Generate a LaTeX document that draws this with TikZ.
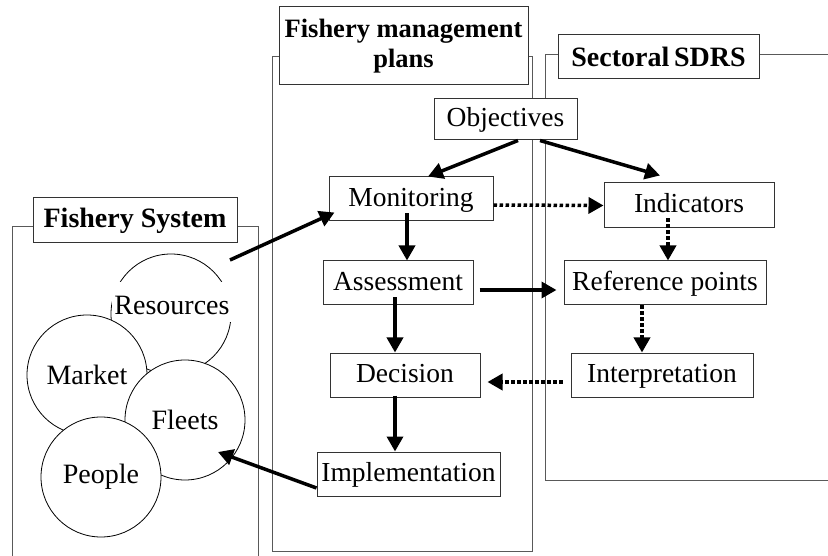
\documentclass[tikz,border=0pt]{standalone}
\usepackage{fontspec}
\setmainfont{Liberation Serif}
\usetikzlibrary{arrows.meta}

\begin{document}
\begin{tikzpicture}[x=1pt,y=-1pt,
  panel/.style={draw=black!65,line width=1pt},
  title/.style={draw=black!80,fill=white,line width=1pt,inner sep=0pt,font=\fontsize{28}{32}\selectfont\bfseries},
  stage/.style={draw=black!80,fill=white,line width=1pt,inner sep=0pt,minimum height=44pt,text height=20pt,text depth=5pt,font=\fontsize{27.5}{32}\selectfont},
  part/.style={circle,draw,fill=white,line width=0.8pt,inner sep=0pt,minimum size=120pt,font=\fontsize{28}{32}\selectfont},
  link/.style={line width=3.5pt,-{Triangle[length=15pt,width=16pt]}},
  hint/.style={link,dash pattern=on 3.5pt off 2.5pt}]

\useasboundingbox (0,0) rectangle (828,556);

\draw[panel] (12,556) -- (12,227) -- (258,227) -- (258,556);
\draw[panel] (272,57) rectangle (532,551);
\draw[panel] (828,55) -- (545,55) -- (545,480) -- (828,480);

\node[title,minimum width=204pt,minimum height=45pt] (systitle) at (135,220.5) {Fishery System};
\node[title,minimum width=249pt,minimum height=78pt,align=center,font=\fontsize{26.5}{30}\selectfont\bfseries] (fmptitle) at (403.5,46) {Fishery management\\plans};
\node[title,minimum width=201pt,minimum height=44pt] (sdrstitle) at (658.5,57) {Sectoral\,SDRS};

\node[part] (res) at (171,314) {};
\node[fill=white,inner xsep=2pt,inner ysep=0pt,text height=33pt,text depth=7pt,anchor=base,font=\fontsize{28}{32}\selectfont] (restext) at (172,315) {Resources};
\node[part] (mkt) at (87,375) {Market};
\node[part] (flt) at (185,420) {Fleets};
\node[part] (ppl) at (101,477) {People};

\node[stage,minimum width=143pt,minimum height=41pt] (obj) at (505.5,119.5) {Objectives};
\node[stage,minimum width=164pt] (mon) at (411,199) {Monitoring};
\node[stage,minimum width=170pt,minimum height=45pt] (ind) at (689,205.5) {Indicators};
\node[stage,minimum width=150pt] (ass) at (398,283) {Assessment};
\node[stage,minimum width=202pt] (ref) at (665,283) {Reference points};
\node[stage,minimum width=150pt] (dec) at (405,375) {Decision};
\node[stage,minimum width=182pt] (intp) at (662,375) {Interpretation};
\node[stage,minimum width=183pt] (imp) at (408.5,474) {Implementation};

\draw[link] ([xshift=12.5pt]obj.south) -- ([xshift=17pt]mon.north);
\draw[link] ([xshift=34.5pt]obj.south) -- ([xshift=-29pt,yshift=7pt]ind.north);
\draw[link] ([xshift=-4pt,yshift=8pt]mon.south) -- ([xshift=9pt]ass.north);
\draw[link] ([xshift=-3pt,yshift=8pt]ass.south) -- ([xshift=-10pt]dec.north);
\draw[link] ([xshift=-10pt,yshift=2pt]dec.south) -- ([xshift=-13.5pt]imp.north);
\draw[link] ([xshift=6pt,yshift=-7pt]ass.east) -- ([xshift=-7pt,yshift=-7pt]ref.west);
\draw[hint] ([yshift=-6pt]mon.east) -- (ind.west);
\draw[hint] ([xshift=-21pt,yshift=10pt]ind.south) -- ([xshift=3pt]ref.north);
\draw[hint] ([xshift=-23pt]ref.south) -- ([xshift=-20pt]intp.north);
\draw[hint] ([xshift=-8pt,yshift=-7pt]intp.west) -- ([xshift=7pt,yshift=-7pt]dec.east);
\draw[link] ([yshift=-14pt]imp.west) -- ([xshift=33pt,yshift=-32pt]flt.center);
\draw[link] ([xshift=59pt,yshift=54pt]res.center) -- ([xshift=6pt,yshift=9pt]mon.south west);

\end{tikzpicture}
\end{document}
